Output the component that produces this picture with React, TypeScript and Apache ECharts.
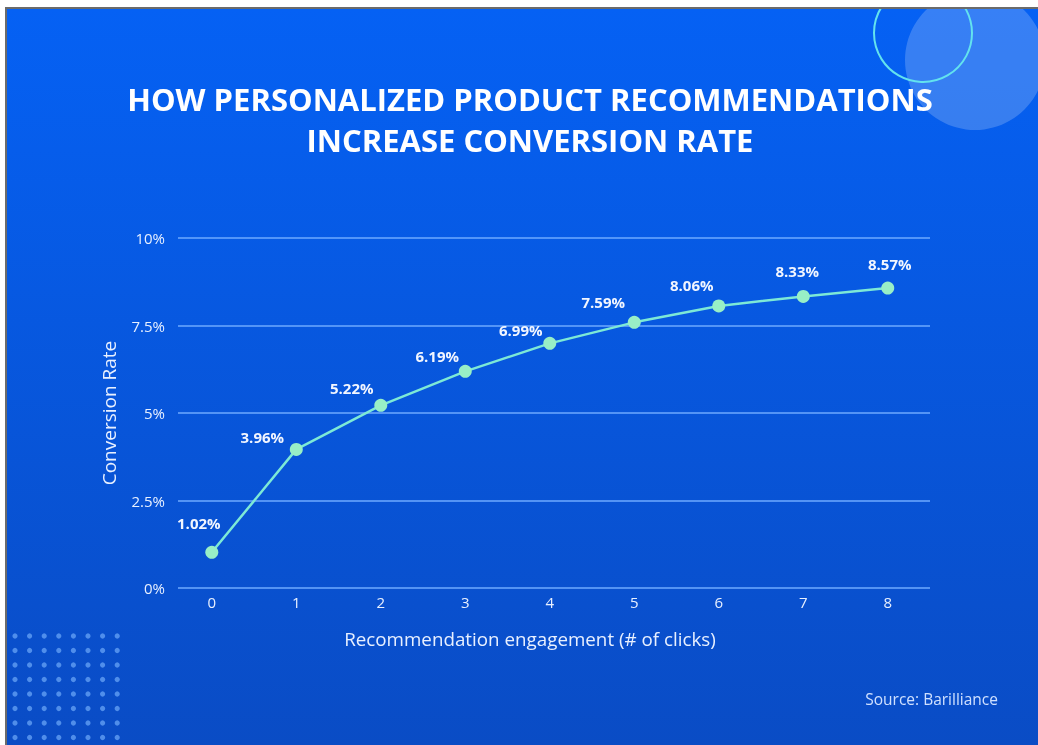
import React, { useEffect, useRef } from "react";
import * as echarts from "echarts";

const clicks = [0, 1, 2, 3, 4, 5, 6, 7, 8];
const conversionRate = [1.02, 3.96, 5.22, 6.19, 6.99, 7.59, 8.06, 8.33, 8.57];
const yTicks = [0, 2.5, 5, 7.5, 10];
const titleLines = ["HOW PERSONALIZED PRODUCT RECOMMENDATIONS", "INCREASE CONVERSION RATE"];
const xAxisName = "Recommendation engagement (# of clicks)";
const yAxisName = "Conversion Rate";
const sourceText = "Source: Barilliance";

const FONT = "'Open Sans', 'Noto Sans', sans-serif";
const TEXT = "#E8F0FF";

export default function App() {
  const ref = useRef<HTMLDivElement>(null);
  useEffect(() => {
    if (!ref.current) return;
    const chart = echarts.init(ref.current, null, { renderer: "svg" });

    const labelOffsets: number[][] = [
      [-13, -29], [-34, -12], [-29, -17], [-28, -15], [-29, -13],
      [-31, -20], [-27, -21], [-6, -25], [2, -24],
    ];

    const dots: any[] = [];
    for (let r = 0; r < 8; r++) {
      for (let c = 0; c < 8; c++) {
        dots.push({
          type: "circle",
          shape: { cx: 15 + c * 14.6, cy: 636 + r * 14.5, r: 2.6 },
          style: { fill: "rgba(110,170,250,0.7)" },
          z: 1,
        });
      }
    }

    chart.setOption({
      animation: false,
      textStyle: { fontFamily: FONT },
      graphic: [
        { type: "rect", shape: { x: 0, y: 0, width: 1038, height: 745 }, style: { fill: "#ffffff" }, z: 0 },
        { type: "rect", shape: { x: 5, y: 7, width: 1033, height: 738 }, style: { fill: "#6b6b6b" }, z: 0 },
        {
          type: "rect",
          shape: { x: 7, y: 9, width: 1031, height: 736 },
          style: {
            fill: new echarts.graphic.LinearGradient(0, 0, 0, 1, [
              { offset: 0, color: "#0561F4" },
              { offset: 1, color: "#0A4CC5" },
            ]),
          },
          z: 0,
        },
        { type: "circle", shape: { cx: 975, cy: 60, r: 70 }, style: { fill: "rgba(255,255,255,0.2)" }, z: 1 },
        { type: "circle", shape: { cx: 923, cy: 33, r: 49 }, style: { fill: "none", stroke: "#63E3EE", lineWidth: 2 }, z: 2 },
        { type: "rect", shape: { x: 0, y: 0, width: 1038, height: 7 }, style: { fill: "#ffffff" }, z: 3 },
        { type: "rect", shape: { x: 5, y: 7, width: 1033, height: 2 }, style: { fill: "#6b6b6b" }, z: 3 },
        ...dots,
        {
          type: "text", x: 530, y: 99, z: 4,
          style: { text: titleLines[0], fill: "#ffffff", font: `bold 31px ${FONT}`, textAlign: "center", textVerticalAlign: "middle" },
        },
        {
          type: "text", x: 530, y: 140, z: 4,
          style: { text: titleLines[1], fill: "#ffffff", font: `bold 31px ${FONT}`, textAlign: "center", textVerticalAlign: "middle" },
        },
        {
          type: "text", x: 530, y: 639, z: 4,
          style: { text: xAxisName, fill: TEXT, font: `18.8px ${FONT}`, textAlign: "center", textVerticalAlign: "middle" },
        },
        {
          type: "text", x: 998, y: 699, z: 4,
          style: { text: sourceText, fill: "#CFE0FF", font: `15.5px ${FONT}`, textAlign: "right", textVerticalAlign: "middle" },
        },
      ],
      grid: { left: 178, right: 108, top: 238, bottom: 157, containLabel: false },
      xAxis: {
        type: "value",
        min: -0.4,
        max: 8.5,
        axisLine: { show: false },
        axisTick: { show: false },
        splitLine: { show: false },
        axisLabel: { customValues: clicks, color: TEXT, fontSize: 15, margin: 6, fontFamily: FONT },
      },
      yAxis: {
        type: "value",
        min: 0,
        max: 10,
        interval: 2.5,
        name: yAxisName,
        nameLocation: "middle",
        nameGap: 60,
        nameTextStyle: { color: TEXT, fontSize: 19, fontFamily: FONT },
        axisLine: { show: false },
        axisTick: { show: false },
        axisLabel: {
          customValues: yTicks,
          color: TEXT,
          fontSize: 15,
          margin: 13,
          fontFamily: FONT,
          formatter: (v: number) => `${v}%`,
        },
        splitLine: { show: true, lineStyle: { color: "rgba(110,170,255,0.75)", width: 2 } },
      },
      series: [
        {
          type: "line",
          data: clicks.map((c, i) => ({
            value: [c, conversionRate[i]],
            label: { offset: labelOffsets[i] },
          })),
          symbol: "circle",
          symbolSize: 13,
          lineStyle: { color: "#7DE9D6", width: 2.5 },
          itemStyle: { color: "#98EFC6" },
          label: {
            show: true,
            position: "inside",
            formatter: (p: any) => `${p.value[1].toFixed(2)}%`,
            color: "#F2F6FF",
            fontSize: 15,
            fontWeight: "bold",
            fontFamily: FONT,
          },
          z: 5,
        },
      ],
    });
    return () => chart.dispose();
  }, []);
  return <div ref={ref} style={{ position: "fixed", left: 0, top: 0, width: 1038, height: 745 }} />;
}
